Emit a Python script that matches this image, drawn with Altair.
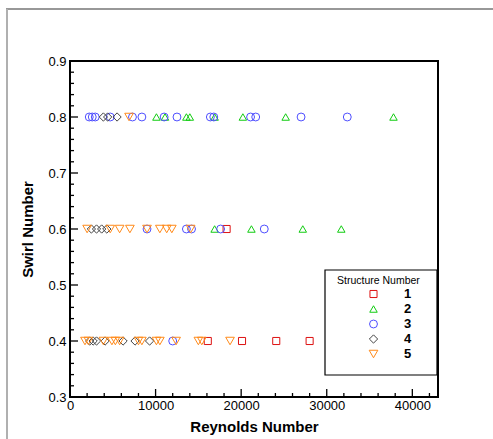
import altair as alt
import pandas as pd

structures = ["1", "2", "3", "4", "5"]
shapes = ["square", "triangle-up", "circle", "diamond", "triangle-down"]
colors = ["#dd1111", "#11cc11", "#4f4fff", "#444444", "#ff8a1a"]
sizes = [50, 75, 110, 75, 75]

s1_re = [18300, 16100, 20100, 24100, 28000]
s1_sw = [0.6, 0.4, 0.4, 0.4, 0.4]

s2_re = [10100, 11100, 13600, 14000, 16900, 20200, 25200, 37800,
         16900, 21200, 27200, 31700]
s2_sw = [0.8] * 8 + [0.6] * 4

s3_re = [2250, 2600, 2950, 4700, 7300, 8400, 11000, 12500, 16400, 16800, 21100, 21700, 27000, 32400,
         9000, 13600, 14200, 17600, 22700,
         12000]
s3_sw = [0.8] * 14 + [0.6] * 5 + [0.4]

s4_re = [3900, 4400, 5500,
         2500, 3100, 3700, 4300,
         2300, 2700, 3100, 4100, 6200, 7600, 9300]
s4_sw = [0.8] * 3 + [0.6] * 4 + [0.4] * 7

s5_re = [6900,
         2000, 4700, 5800, 7000, 9000, 10500, 11300, 11900, 14100,
         1750, 2150, 3900, 4900, 5300, 5800, 8000, 8400, 10100, 10500, 12400, 15000, 15400, 18700]
s5_sw = [0.8] + [0.6] * 9 + [0.4] * 14

x_major = [0, 10000, 20000, 30000, 40000]
x_minor = [v for v in range(0, 43000, 2000) if v % 10000 != 0]
y_major = [0.3, 0.4, 0.5, 0.6, 0.7, 0.8, 0.9]
y_minor = [round(0.3 + 0.02 * i, 2) for i in range(31) if i % 5 != 0]

rows = []
for s, res, sws in zip(structures, [s1_re, s2_re, s3_re, s4_re, s5_re],
                       [s1_sw, s2_sw, s3_sw, s4_sw, s5_sw]):
    for r, w in zip(res, sws):
        rows.append({"re": r, "swirl": w, "structure": s})
df = pd.DataFrame(rows)

W, H = 368, 336
FONT = "Liberation Sans"
xs = alt.Scale(domain=[0, 43000], nice=False, zero=False)
ys = alt.Scale(domain=[0.3, 0.9], nice=False, zero=False)
x_axis = alt.Axis(values=x_major, format="d", ticks=False, grid=False, domain=False,
                  labelFontSize=13, labelPadding=2, titleFontSize=15, titlePadding=7,
                  labelFlush=False)
y_axis = alt.Axis(values=y_major, format=".1f", ticks=False, grid=False, domain=False,
                  labelFontSize=13, labelPadding=4, titleFontSize=15, titlePadding=12,
                  labelFlush=False)
X = lambda: alt.X("re:Q", scale=xs, title="Reynolds Number", axis=x_axis)
Y = lambda: alt.Y("swirl:Q", scale=ys, title="Swirl Number", axis=y_axis)

points = alt.Chart(df).mark_point(filled=False, strokeWidth=1, opacity=1).encode(
    x=X(), y=Y(),
    color=alt.Color("structure:N", scale=alt.Scale(domain=structures, range=colors),
                    legend=alt.Legend(title="Structure Number")),
    shape=alt.Shape("structure:N", scale=alt.Scale(domain=structures, range=shapes),
                    legend=alt.Legend(title="Structure Number")),
    size=alt.Size("structure:N", scale=alt.Scale(domain=structures, range=sizes),
                  legend=alt.Legend(title="Structure Number")),
)

legend_box = alt.Chart(pd.DataFrame({"a": [0]})).mark_rect(
    fill="white", stroke="black", strokeWidth=1.2
).encode(x=alt.value(255), x2=alt.value(367), y=alt.value(209), y2=alt.value(314))

def xticks(vals, length):
    return alt.Chart(pd.DataFrame({"re": vals})).mark_rule(color="black", strokeWidth=1.3).encode(
        x=X(), y=alt.value(H), y2=alt.value(H - length))

def yticks(vals, length):
    return alt.Chart(pd.DataFrame({"swirl": vals})).mark_rule(color="black", strokeWidth=1.3).encode(
        y=Y(), x=alt.value(0), x2=alt.value(length))

top_line = alt.Chart(pd.DataFrame({"a": [0]})).mark_rule(color="#333333", strokeWidth=1.2).encode(
    x=alt.value(-64), x2=alt.value(430), y=alt.value(-52))
left_line = alt.Chart(pd.DataFrame({"a": [0]})).mark_rule(color="#b0b0b0", strokeWidth=2).encode(
    x=alt.value(-63), y=alt.value(-52), y2=alt.value(390))

chart = alt.layer(
    top_line, left_line,
    xticks(x_major, 8), xticks(x_minor, 4), yticks(y_major, 8), yticks(y_minor, 4),
    legend_box, points
).properties(
    width=W, height=H,
    padding={"left": 70, "top": 61, "right": 55, "bottom": 42},
    autosize=alt.AutoSizeParams(type="none"),
).configure(font=FONT).configure_view(
    stroke="black", strokeWidth=2
).configure_axis(
    labelFont=FONT, titleFont=FONT, labelColor="black", titleColor="black", titleFontWeight="bold"
).configure_legend(
    orient="none", legendX=267, legendY=215,
    titleFont=FONT, titleFontSize=10.5, titleFontWeight="normal", titleColor="black",
    titlePadding=1,
    labelFont=FONT, labelFontSize=13, labelFontWeight="bold", labelColor="black",
    symbolOffset=30, labelOffset=24, rowPadding=1, padding=0,
    symbolStrokeWidth=1,
)

chart.save("out.html", embed_options={"renderer": "svg", "actions": False})
